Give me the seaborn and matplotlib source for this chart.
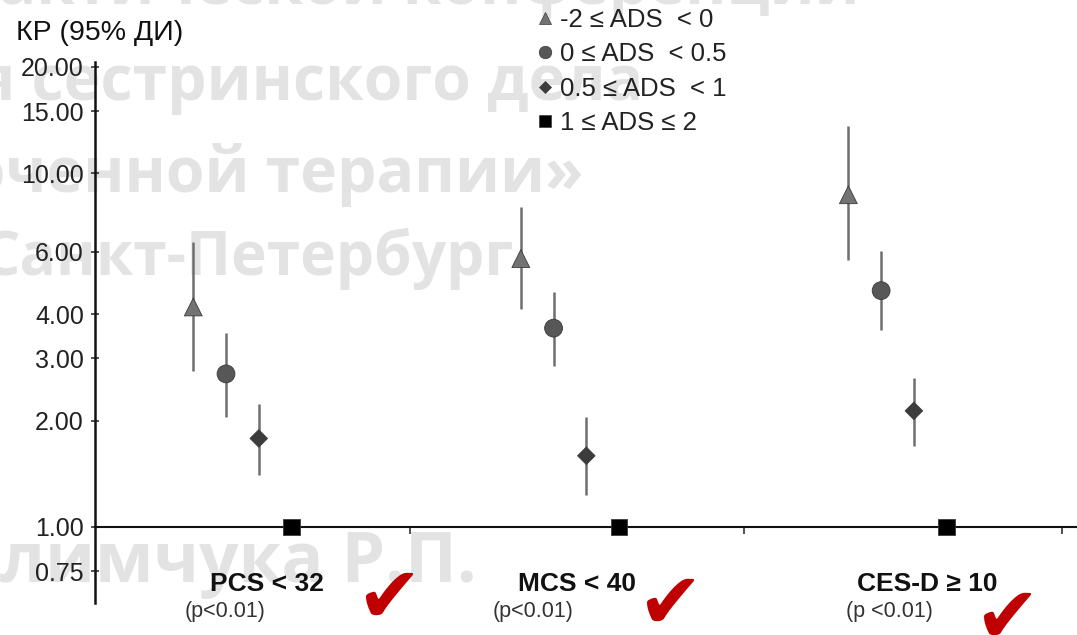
import numpy as np
import pandas as pd
import matplotlib
matplotlib.use("Agg")
import matplotlib.pyplot as plt
import seaborn as sns
from matplotlib.lines import Line2D
from matplotlib.ticker import NullLocator

# ---------------- data ----------------
categories = ["PCS < 32", "MCS < 40", "CES-D ≥ 10"]
p_labels = ["(p<0.01)", "(p<0.01)", "(p <0.01)"]
ads_groups = ["-2 ≤ ADS  < 0", "0 ≤ ADS  < 0.5", "0.5 ≤ ADS  < 1", "1 ≤ ADS ≤ 2"]

or_g1 = [4.19, 5.74, 8.70]
lo_g1 = [2.76, 4.14, 5.69]
hi_g1 = [6.40, 8.05, 13.6]

or_g2 = [2.71, 3.65, 4.66]
lo_g2 = [2.05, 2.86, 3.61]
hi_g2 = [3.54, 4.62, 6.04]

or_g3 = [1.78, 1.59, 2.13]
lo_g3 = [1.40, 1.23, 1.69]
hi_g3 = [2.23, 2.05, 2.63]

or_g4 = [1.00, 1.00, 1.00]

y_ticks = [0.75, 1.0, 2.0, 3.0, 4.0, 6.0, 10.0, 15.0, 20.0]
y_tick_labels = ["0.75", "1.00", "2.00", "3.00", "4.00", "6.00", "10.00", "15.00", "20.00"]
y_title = "КР (95% ДИ)"

watermark_lines = [
    "Научно-практической конференции",
    "развития сестринского дела",
    "и сопровождающей и оченной терапии»",
    "Санкт-Петербург",
    "памяти Климчука Р.П.",
]

# ---------------- styling / layout ----------------
W, H = 1077, 635
markers = {ads_groups[0]: "^", ads_groups[1]: "o", ads_groups[2]: "D", ads_groups[3]: "s"}
colors = {ads_groups[0]: "#737373", ads_groups[1]: "#575757", ads_groups[2]: "#3c3c3c", ads_groups[3]: "#000000"}
sizes = {ads_groups[0]: 165, ads_groups[1]: 165, ads_groups[2]: 80, ads_groups[3]: 140}
offsets = [-0.15, -0.05, 0.05, 0.15]
sep_ticks = [0.511, 1.531, 2.502]

sns.set_theme(style="white")
plt.rcParams["font.family"] = ["Liberation Sans", "DejaVu Sans"]

fig = plt.figure(figsize=(W / 100, H / 100), dpi=100)
fig.patch.set_facecolor("white")

# watermark (behind everything)
wm_pos = [(860, 4), (643, 100), (584, 192), (514, 275), (477, 582)]
wm_size = [45, 45, 45, 43.5, 50]
for txt, (xr, yb), fs in zip(watermark_lines, wm_pos, wm_size):
    fig.text(xr / W, 1 - yb / H, txt, ha="right", va="baseline", fontsize=fs,
             fontweight="bold", family="Open Sans", color="#e3e3e3", zorder=-5)

ax = fig.add_axes([95 / W, 1 - 603 / H, 1 - 95 / W, (603 - 62) / H])
ax.set_facecolor("none")

rows = []
all_or = [or_g1, or_g2, or_g3, or_g4]
all_lo = [lo_g1, lo_g2, lo_g3, [np.nan] * 3]
all_hi = [hi_g1, hi_g2, hi_g3, [np.nan] * 3]
for j, g in enumerate(ads_groups):
    for i, c in enumerate(categories):
        rows.append({"group": g, "category": c, "x": i + offsets[j],
                     "OR": all_or[j][i], "lo": all_lo[j][i], "hi": all_hi[j][i]})
df = pd.DataFrame(rows)

ci = df.dropna(subset=["lo"])
ax.vlines(ci["x"], ci["lo"], ci["hi"], color="#6e6e6e", lw=1.8, zorder=2)

sns.scatterplot(data=df, x="x", y="OR", hue="group", style="group", size="group",
                palette=colors, markers=markers, sizes=sizes, hue_order=ads_groups,
                style_order=ads_groups, size_order=ads_groups,
                edgecolor="#3a3a3a", linewidth=0.6, legend=False, ax=ax, zorder=4)

ax.set_yscale("log")
ax.set_ylim(0.6096, 20.65)
ax.set_xlim(-0.450, 2.548)
ax.set_yticks(y_ticks)
ax.set_yticklabels(y_tick_labels)
ax.yaxis.set_minor_locator(NullLocator())
ax.set_xticks(sep_ticks)
ax.set_xticklabels([])
ax.xaxis.set_minor_locator(NullLocator())
ax.set_xlabel("")
ax.set_ylabel("")

for s in ["top", "right"]:
    ax.spines[s].set_visible(False)
ax.spines["left"].set_color("#111111")
ax.spines["left"].set_linewidth(1.8)
ax.spines["bottom"].set_position(("data", 1.0))
ax.spines["bottom"].set_color("#111111")
ax.spines["bottom"].set_linewidth(1.5)
ax.tick_params(axis="y", direction="inout", length=6, width=1.2, color="#333333",
               labelsize=18, pad=5, labelcolor="#222222", left=True)
ax.tick_params(axis="x", direction="out", length=5, width=1.2, color="#333333", bottom=True)

# y title
fig.text(16 / W, 1 - 40 / H, y_title, ha="left", va="baseline", fontsize=20.5, color="#111111")

# category labels and p-values
cat_x = [267, 577, 927]
p_x = [225, 533, 889]
for c, p, cx, px in zip(categories, p_labels, cat_x, p_x):
    fig.text(cx / W, 1 - 591 / H, c, ha="center", va="baseline", fontsize=19,
             fontweight="bold", color="#111111")
    fig.text(px / W, 1 - 612 / H, p, ha="center", va="center", fontsize=15.5, color="#333333")

# red check marks
check_pos = [(390, 600), (671, 606), (1008, 620)]
for cxp, cyp in check_pos:
    fig.text(cxp / W, 1 - cyp / H, "✔", ha="center", va="center", fontsize=56,
             family="DejaVu Sans", color="#c00000")

# legend
handles = [Line2D([], [], ls="none", marker=markers[g], color=colors[g],
                  markeredgecolor="#3a3a3a", markeredgewidth=0.5,
                  markersize={0: 9, 1: 9, 2: 6.5, 3: 8}[k]) for k, g in enumerate(ads_groups)]
fig.legend(handles, ads_groups, loc="upper left", bbox_to_anchor=(537 / W, 1 - 8 / H),
           frameon=False, fontsize=18.5, handlelength=0.6, handletextpad=0.3,
           labelspacing=0.4, borderpad=0, borderaxespad=0, labelcolor="#222222")

fig.savefig("out.png", dpi=100, facecolor="white")
